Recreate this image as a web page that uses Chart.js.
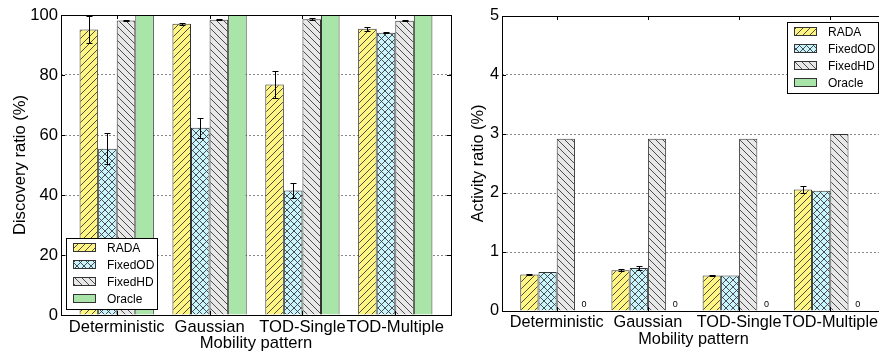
<!DOCTYPE html>
<html>
<head>
<meta charset="utf-8">
<script src="https://cdn.jsdelivr.net/npm/chart.js@4.4.1/dist/chart.umd.min.js"></script>
<style>
  html, body { margin: 0; padding: 0; background: #fff; overflow: hidden; }
  #wrap { position: relative; width: 879px; height: 353px; overflow: hidden; }
  #left { position: absolute; left: 0; top: 0; }
  #right { position: absolute; left: 460px; top: 0; }
</style>
</head>
<body>
<div id="wrap">
  <canvas id="left" width="460" height="353"></canvas>
  <canvas id="right" width="440" height="353"></canvas>
</div>
<script>
// data
var categories = ['Deterministic', 'Gaussian', 'TOD-Single', 'TOD-Multiple'];
var seriesNames = ['RADA', 'FixedOD', 'FixedHD', 'Oracle'];

var discoveryRADA = [95.2, 97.1, 76.8, 95.4];
var discoveryRADAErr = [4.6, 0.3, 4.5, 0.7];
var discoveryFixedOD = [55.4, 62.4, 41.5, 94.1];
var discoveryFixedODErr = [5.2, 3.4, 2.5, 0.1];
var discoveryFixedHD = [98.2, 98.4, 98.6, 98.1];
var discoveryFixedHDErr = [0.2, 0.2, 0.3, 0.2];
var discoveryOracle = [100, 100, 100, 100];
var discoveryTicks = [0, 20, 40, 60, 80, 100];

var activityRADA = [0.62, 0.69, 0.60, 2.06];
var activityRADAErr = [0.01, 0.02, 0.01, 0.06];
var activityFixedOD = [0.66, 0.73, 0.60, 2.04];
var activityFixedODErr = [0, 0.04, 0, 0];
var activityFixedHD = [2.92, 2.92, 2.92, 3.0];
var activityOracle = [0, 0, 0, 0];
var activityTicks = [0, 1, 2, 3, 4, 5];

var fills = ['#fff583', '#c9f6fe', '#e8e8e8', '#a9e5a9'];
var hatches = ['/', 'x', '\\', ''];

Chart.defaults.font.family = '"Liberation Sans", Arial, sans-serif';
Chart.defaults.color = '#000';

function hatch(ctx, bg, kind) {
  var s = 7;
  var c = document.createElement('canvas');
  c.width = s; c.height = s;
  var g = c.getContext('2d');
  g.fillStyle = bg;
  g.fillRect(0, 0, s, s);
  if (!kind) return bg;
  g.strokeStyle = '#3a3a3a';
  g.lineWidth = 0.9;
  g.beginPath();
  if (kind == '/' || kind == 'x') {
    g.moveTo(-1, s + 1); g.lineTo(s + 1, -1);
    g.moveTo(-1, 1); g.lineTo(1, -1);
    g.moveTo(s - 1, s + 1); g.lineTo(s + 1, s - 1);
  }
  if (kind == '\\' || kind == 'x') {
    g.moveTo(-1, -1); g.lineTo(s + 1, s + 1);
    g.moveTo(s - 1, -1); g.lineTo(s + 1, 1);
    g.moveTo(-1, s - 1); g.lineTo(1, s + 1);
  }
  g.stroke();
  return ctx.createPattern(c, 'repeat');
}

// plot frame with small inward ticks
var frame = {
  id: 'frame',
  afterDraw: function (chart) {
    var ctx = chart.ctx, a = chart.chartArea;
    ctx.save();
    ctx.strokeStyle = '#000';
    ctx.lineWidth = 1;
    ctx.strokeRect(Math.round(a.left) + 0.5, Math.round(a.top) + 0.5,
      Math.round(a.right - a.left), Math.round(a.bottom - a.top));
    ctx.beginPath();
    chart.scales.y.ticks.forEach(function (t) {
      var py = Math.round(chart.scales.y.getPixelForValue(t.value)) + 0.5;
      ctx.moveTo(a.left, py); ctx.lineTo(a.left + 4, py);
      ctx.moveTo(a.right, py); ctx.lineTo(a.right - 4, py);
    });
    chart.scales.x.ticks.forEach(function (t) {
      var px = Math.round(chart.scales.x.getPixelForValue(t.value)) + 0.5;
      ctx.moveTo(px, a.top); ctx.lineTo(px, a.top + 4);
      ctx.moveTo(px, a.bottom); ctx.lineTo(px, a.bottom - 4);
    });
    ctx.stroke();
    ctx.restore();
  }
};

var errorBars = {
  id: 'errorBars',
  afterDatasetsDraw: function (chart) {
    var ctx = chart.ctx, ys = chart.scales.y, a = chart.chartArea;
    ctx.save();
    ctx.beginPath();
    ctx.rect(a.left, a.top, a.right - a.left, a.bottom - a.top);
    ctx.clip();
    ctx.strokeStyle = '#000';
    ctx.lineWidth = 1;
    chart.data.datasets.forEach(function (d, k) {
      if (!d.errors) return;
      chart.getDatasetMeta(k).data.forEach(function (bar, i) {
        var e = d.errors[i];
        if (!e) return;
        var v = d.data[i].y;
        var x = Math.round(bar.x) + 0.5;
        var y1 = Math.round(ys.getPixelForValue(v + e)) + 0.5;
        var y2 = Math.round(ys.getPixelForValue(v - e)) + 0.5;
        ctx.beginPath();
        ctx.moveTo(x, y1); ctx.lineTo(x, y2);
        ctx.moveTo(x - 3, y1); ctx.lineTo(x + 3, y1);
        ctx.moveTo(x - 3, y2); ctx.lineTo(x + 3, y2);
        ctx.stroke();
      });
    });
    ctx.restore();
  }
};

// "0" text over bars with no height
var zeroLabels = {
  id: 'zeroLabels',
  afterDatasetsDraw: function (chart, args, opts) {
    if (!opts.show) return;
    var ctx = chart.ctx, a = chart.chartArea;
    ctx.save();
    ctx.font = '9px ' + Chart.defaults.font.family;
    ctx.fillStyle = '#000';
    ctx.textAlign = 'center';
    ctx.textBaseline = 'middle';
    chart.data.datasets.forEach(function (d, k) {
      chart.getDatasetMeta(k).data.forEach(function (bar, i) {
        if (d.data[i].y === 0) ctx.fillText('0', bar.x, a.bottom - 6);
      });
    });
    ctx.restore();
  }
};

var boxLegend = {
  id: 'boxLegend',
  afterDraw: function (chart, args, opts) {
    var ctx = chart.ctx, a = chart.chartArea, sets = chart.data.datasets;
    ctx.save();
    ctx.font = '12px ' + Chart.defaults.font.family;
    var tw = 0;
    sets.forEach(function (d) { tw = Math.max(tw, ctx.measureText(d.label).width); });
    var w = Math.round(40 + tw + 4), h = sets.length * 17 + 3;
    var x, y;
    if (opts.corner == 'lowerleft') {
      x = Math.round(a.left) + 5; y = Math.round(a.bottom) - 6 - h;
    } else {
      x = Math.round(a.right) - 7 - w; y = Math.round(a.top) + 6;
    }
    ctx.fillStyle = '#fff';
    ctx.fillRect(x, y, w, h);
    ctx.strokeStyle = '#000';
    ctx.lineWidth = 1;
    ctx.strokeRect(x + 0.5, y + 0.5, w, h);
    sets.forEach(function (d, k) {
      var cy = y + 10 + k * 17;
      ctx.fillStyle = d.backgroundColor;
      ctx.fillRect(x + 7, cy - 5, 23, 9);
      ctx.strokeStyle = '#333';
      ctx.strokeRect(x + 7.5, cy - 4.5, 22, 8);
      ctx.fillStyle = '#000';
      ctx.textBaseline = 'middle';
      ctx.fillText(d.label, x + 41, cy + 0.5);
    });
    ctx.restore();
  }
};

function makeDatasets(ctx, values, errors) {
  return seriesNames.map(function (name, k) {
    return {
      label: name,
      data: values[k].map(function (v, i) { return {x: i, y: v}; }),
      errors: errors[k],
      backgroundColor: hatch(ctx, fills[k], hatches[k]),
      borderColor: '#333',
      borderWidth: 1,
      categoryPercentage: 0.8,
      barPercentage: 1
    };
  });
}

function makeOptions(cfg) {
  return {
    responsive: false,
    animation: false,
    events: [],
    layout: { padding: cfg.padding },
    plugins: {
      legend: { display: false },
      tooltip: { enabled: false },
      boxLegend: { corner: cfg.legendCorner },
      zeroLabels: { show: cfg.zeroLabels }
    },
    scales: {
      x: {
        type: 'linear',
        min: -0.6,
        max: 3.6,
        offset: false,
        afterBuildTicks: function (s) {
          s.ticks = categories.map(function (c, i) { return {value: i}; });
        },
        afterFit: function (s) { s.height = cfg.xHeight; },
        ticks: {
          autoSkip: false,
          maxRotation: 0,
          padding: 2,
          font: { size: cfg.fontSize },
          callback: function (v) { return categories[v]; }
        },
        grid: { display: false, drawTicks: false },
        border: { display: false },
        title: {
          display: true,
          text: 'Mobility pattern',
          font: { size: cfg.fontSize },
          padding: { top: 0, bottom: cfg.xTitlePad }
        }
      },
      y: {
        min: 0,
        max: cfg.max,
        afterBuildTicks: function (s) {
          s.ticks = cfg.ticks.map(function (v) { return {value: v}; });
        },
        afterFit: function (s) { s.width = cfg.yWidth; },
        ticks: { padding: 3, font: { size: cfg.fontSize } },
        grid: { color: '#888', lineWidth: 1, drawTicks: false },
        border: { display: false, dash: [2, 2] },
        title: {
          display: true,
          text: cfg.yTitle,
          font: { size: cfg.fontSize },
          padding: { top: cfg.yTitlePad, bottom: 0 }
        }
      }
    }
  };
}

var leftCtx = document.getElementById('left').getContext('2d');
new Chart(leftCtx, {
  type: 'bar',
  data: {
    datasets: makeDatasets(leftCtx,
      [discoveryRADA, discoveryFixedOD, discoveryFixedHD, discoveryOracle],
      [discoveryRADAErr, discoveryFixedODErr, discoveryFixedHDErr, null])
  },
  options: makeOptions({
    padding: { left: 0, top: 15, right: 9, bottom: 0 },
    yWidth: 61, xHeight: 38, fontSize: 16.6,
    xTitlePad: 0, yTitlePad: 10,
    max: 100, ticks: discoveryTicks,
    yTitle: 'Discovery ratio (%)',
    legendCorner: 'lowerleft', zeroLabels: false
  }),
  plugins: [errorBars, zeroLabels, frame, boxLegend]
});

var rightCtx = document.getElementById('right').getContext('2d');
new Chart(rightCtx, {
  type: 'bar',
  data: {
    datasets: makeDatasets(rightCtx,
      [activityRADA, activityFixedOD, activityFixedHD, activityOracle],
      [activityRADAErr, activityFixedODErr, null, null])
  },
  options: makeOptions({
    padding: { left: 0, top: 16, right: 15, bottom: 0 },
    yWidth: 42, xHeight: 42, fontSize: 16.3,
    xTitlePad: 3.5, yTitlePad: 8.7,
    max: 5, ticks: activityTicks,
    yTitle: 'Activity ratio (%)',
    legendCorner: 'upperright', zeroLabels: true
  }),
  plugins: [errorBars, zeroLabels, frame, boxLegend]
});
</script>
</body>
</html>
